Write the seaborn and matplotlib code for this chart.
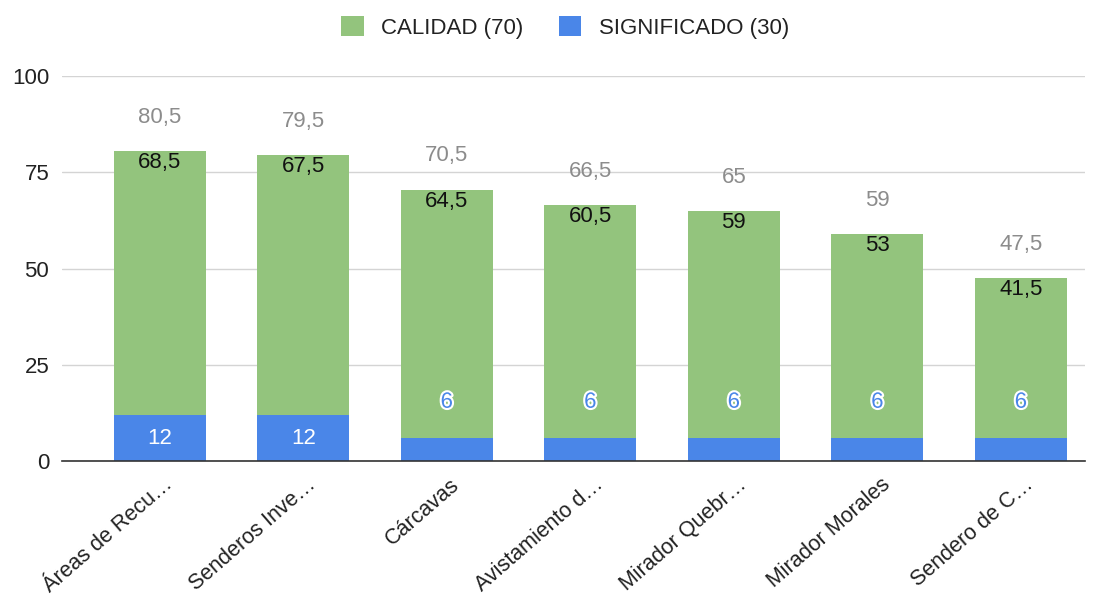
import matplotlib
matplotlib.use("Agg")
import matplotlib.pyplot as plt
import matplotlib.transforms as mtransforms
import matplotlib.patheffects as pe
import pandas as pd
import seaborn as sns

# data
sitios = ["Áreas de Recu…", "Senderos Inve…", "Cárcavas", "Avistamiento d…",
          "Mirador Quebr…", "Mirador Morales", "Sendero de C…"]
calidad = [68.5, 67.5, 64.5, 60.5, 59, 53, 41.5]
significado = [12, 12, 6, 6, 6, 6, 6]
y_ticks = [0, 25, 50, 75, 100]

VERDE = "#93c47d"
AZUL = "#4a86e8"
FS = 16


def coma(v):
    # decimal comma like the original
    return (f"{v:g}").replace(".", ",")


df = pd.DataFrame({"Sitio": sitios, "Calidad": calidad, "Significado": significado})
df["Total"] = df["Calidad"] + df["Significado"]

sns.set_style("white")
plt.rcParams["font.family"] = ["Liberation Sans", "DejaVu Sans"]

fig = plt.figure(figsize=(11.02, 6.10), dpi=100)
ax = fig.add_axes([0.056, 0.244, 0.929, 0.631])

# stacked: total bar in green, significado in blue drawn over it from the base
sns.barplot(data=df, x="Sitio", y="Total", color=VERDE, width=0.64,
            saturation=1, linewidth=0, ax=ax, label="CALIDAD (70)")
sns.barplot(data=df, x="Sitio", y="Significado", color=AZUL, width=0.64,
            saturation=1, linewidth=0, ax=ax, label="SIGNIFICADO (30)")

ax.set_ylim(0, 100)
ax.set_xlim(-0.683, 6.45)
ax.set_yticks(y_ticks)
ax.yaxis.grid(True, color="#d4d4d4", linewidth=1)
ax.set_axisbelow(True)
for s in ["top", "right", "left"]:
    ax.spines[s].set_visible(False)
ax.spines["bottom"].set_color("#333333")
ax.spines["bottom"].set_linewidth(1.2)
ax.set_xlabel("")
ax.set_ylabel("")
ax.tick_params(axis="y", length=0, labelsize=FS, colors="#222222", pad=9)
ax.tick_params(axis="x", length=0, labelsize=FS - 0.5, colors="#222222", pad=15)

offset = mtransforms.ScaledTranslation(7 / 72, 0, fig.dpi_scale_trans)
for lab in ax.get_xticklabels():
    lab.set_rotation(41)
    lab.set_ha("right")
    lab.set_va("center")
    lab.set_rotation_mode("anchor")
    lab.set_transform(lab.get_transform() + offset)

# value labels
for i, row in df.iterrows():
    ax.text(i, row["Total"] + 8.8, coma(row["Total"]), ha="center", va="center",
            fontsize=FS, color="#8c8c8c")
    ax.text(i, row["Total"] - 3.0, coma(row["Calidad"]), ha="center", va="center",
            fontsize=FS, color="#111111")
    if row["Significado"] >= 10:
        ax.text(i, row["Significado"] / 2, coma(row["Significado"]), ha="center",
                va="center", fontsize=FS, color="white")
    else:
        t = ax.text(i, row["Significado"] + 9.3, coma(row["Significado"]),
                    ha="center", va="center", fontsize=FS, color=AZUL)
        t.set_path_effects([pe.withStroke(linewidth=3, foreground="white")])

leg = fig.legend(*ax.get_legend_handles_labels(), loc="center", ncol=2,
                 bbox_to_anchor=(0.513, 0.955), frameon=False, fontsize=FS,
                 handlelength=1.0, handleheight=1.0, columnspacing=1.6,
                 handletextpad=0.8)
if ax.get_legend() is not None:
    ax.get_legend().remove()
for t in leg.get_texts():
    t.set_color("#222222")

fig.savefig("out.png", dpi=100)
